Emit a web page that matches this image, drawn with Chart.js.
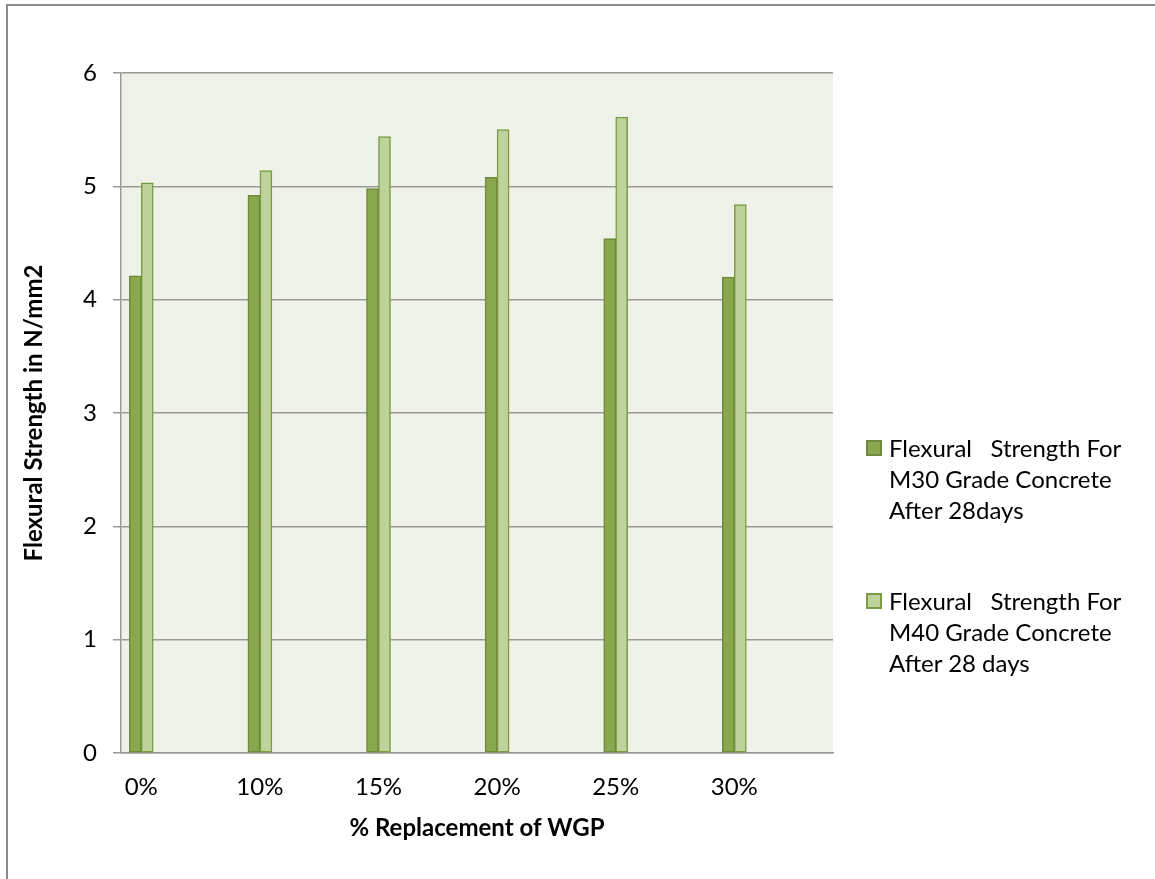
<!DOCTYPE html>
<html>
<head>
<meta charset="utf-8">
<title>Flexural Strength Chart</title>
<script src="https://cdn.jsdelivr.net/npm/chart.js"></script>
<style>
  body { margin: 0; background: #fff; overflow: hidden; font-family: Lato, "DejaVu Sans", sans-serif; }
  #wrap { position: relative; width: 1155px; height: 879px; }
  #frame { position: absolute; left: 6px; top: 4px; width: 1200px; height: 900px;
           border-top: 2px solid #8c8c8c; border-left: 2px solid #8c8c8c; }
  #chartBox { position: absolute; left: 0; top: 0; width: 1155px; height: 879px; }
  .leg { position: absolute; left: 866px; font-size: 24px; line-height: 31px; color: #000; }
  .leg .sw { position: absolute; left: 0; top: 8px; width: 12px; height: 12px; border: 2px solid; }
  .leg .tx { margin-left: 23px; white-space: pre; }
</style>
</head>
<body>
<div id="wrap">
  <div id="frame"></div>
  <div id="chartBox"><canvas id="myChart"></canvas></div>
  <div id="legend"></div>
</div>
<script>
  // data
  const categories = ['0%', '10%', '15%', '20%', '25%', '30%'];
  const m30Values = [4.21, 4.92, 4.98, 5.08, 4.54, 4.20];
  const m40Values = [5.03, 5.14, 5.44, 5.50, 5.61, 4.84];
  const yTicks = [0, 1, 2, 3, 4, 5, 6];
  const seriesNames = [
    'Flexural   Strength For M30 Grade Concrete After 28days',
    'Flexural   Strength For M40 Grade Concrete After 28 days'
  ];
  const legendLines = [
    ['Flexural   Strength For', 'M30 Grade Concrete', 'After 28days'],
    ['Flexural   Strength For', 'M40 Grade Concrete', 'After 28 days']
  ];

  const fills = ['#8AA74E', '#BED29B'];
  const borders = ['#6E8A3A', '#7C9C43'];

  // plot background
  const plotBg = {
    id: 'plotBg',
    beforeDraw(chart) {
      const a = chart.chartArea, ctx = chart.ctx;
      ctx.save();
      ctx.fillStyle = '#EFF2E9';
      ctx.fillRect(a.left, a.top, a.right - a.left, a.bottom - a.top);
      ctx.restore();
    }
  };

  // x axis title, centred under the plot
  const xTitle = {
    id: 'xTitle',
    afterDraw(chart) {
      const a = chart.chartArea, ctx = chart.ctx;
      ctx.save();
      ctx.font = 'bold 24px Lato';
      ctx.fillStyle = '#000';
      ctx.textAlign = 'center';
      ctx.textBaseline = 'middle';
      ctx.fillText('% Replacement of WGP', (a.left + a.right) / 2, 828);
      ctx.restore();
    }
  };

  const ctx = document.getElementById('myChart').getContext('2d');
  new Chart(ctx, {
    type: 'bar',
    data: {
      datasets: [
        {
          label: seriesNames[0],
          data: m30Values.map((v, i) => ({ x: i, y: v })),
          backgroundColor: fills[0],
          borderColor: borders[0],
          borderWidth: 1.5,
          borderSkipped: false,
          barThickness: 12
        },
        {
          label: seriesNames[1],
          data: m40Values.map((v, i) => ({ x: i, y: v })),
          backgroundColor: fills[1],
          borderColor: borders[1],
          borderWidth: 1.5,
          borderSkipped: false,
          barThickness: 12
        }
      ]
    },
    options: {
      responsive: true,
      maintainAspectRatio: false,
      animation: false,
      layout: { padding: { left: 0, right: 322, top: 73, bottom: 0 } },
      plugins: {
        legend: { display: false },
        tooltip: { enabled: false }
      },
      scales: {
        x: {
          type: 'linear',
          offset: false,
          min: -0.171,
          max: 5.832,
          afterFit: s => { s.height = 126; },
          grid: { display: false, drawTicks: false, offset: false },
          border: { display: true, color: '#999999', width: 1.5 },
          ticks: {
            stepSize: 1,
            includeBounds: false,
            padding: 20,
            color: '#000',
            font: { family: 'Lato', size: 24 },
            callback: v => (Number.isInteger(v) ? categories[v] : '')
          }
        },
        y: {
          min: yTicks[0],
          max: yTicks[yTicks.length - 1],
          afterFit: s => { s.width = 121; },
          grid: { color: '#999999', lineWidth: 1.5, tickLength: 8 },
          border: { display: true, color: '#999999', width: 1.5 },
          ticks: {
            stepSize: 1,
            padding: 16,
            color: '#000',
            font: { family: 'Lato', size: 24 }
          },
          title: {
            display: true,
            text: 'Flexural Strength in N/mm2',
            color: '#000',
            font: { family: 'Lato', size: 24, weight: 'bold' },
            padding: { top: 20, bottom: 0 }
          }
        }
      }
    },
    plugins: [plotBg, xTitle]
  });

  // legend with wrapped text, as in the original
  const legendTop = [432, 585];
  const legend = document.getElementById('legend');
  legendLines.forEach((lines, i) => {
    const d = document.createElement('div');
    d.className = 'leg';
    d.style.top = legendTop[i] + 'px';
    d.innerHTML = '<span class="sw" style="background:' + fills[i] + ';border-color:' + borders[i] +
      '"></span><div class="tx">' + lines.join('\n') + '</div>';
    legend.appendChild(d);
  });
</script>
</body>
</html>
